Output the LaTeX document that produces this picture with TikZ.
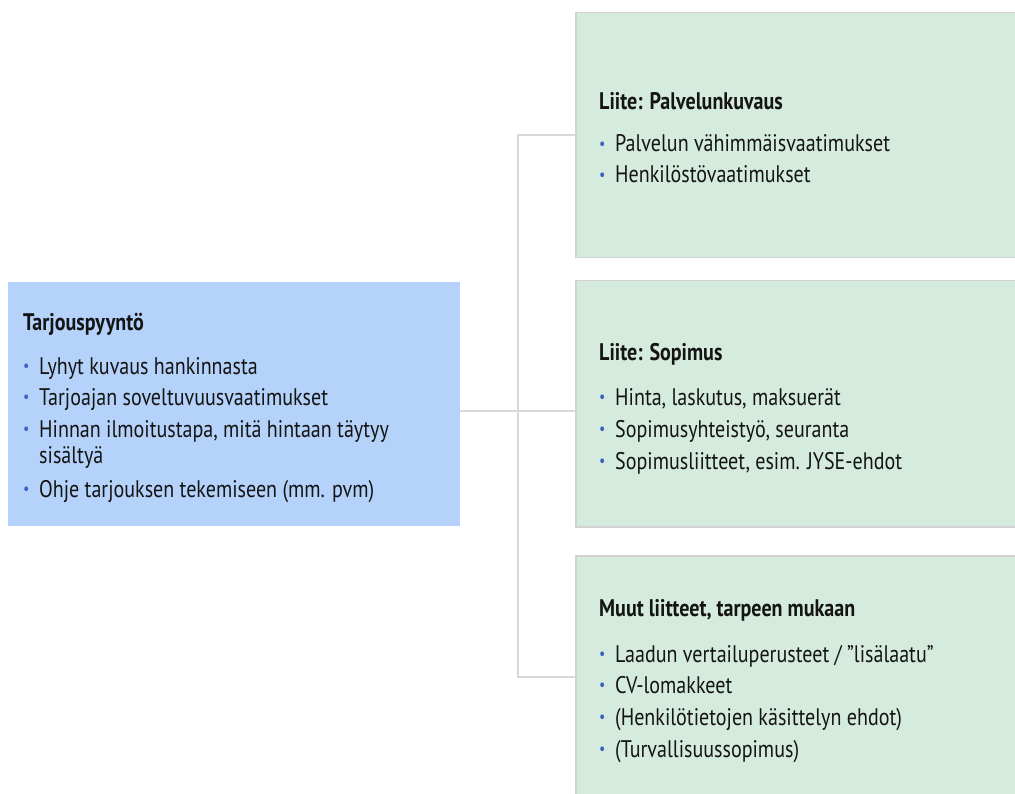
\documentclass[tikz,border=0pt]{standalone}
\usepackage{fontspec}
\setmainfont{PT Sans}[FakeStretch=0.835]
\usetikzlibrary{calc}
\definecolor{reqfill}{HTML}{B4D2FA}
\definecolor{attfill}{HTML}{D5EBDE}
\definecolor{attedge}{HTML}{D2D2D2}
\definecolor{linkgray}{HTML}{D9D9D9}
\definecolor{dotblue}{HTML}{3B63C8}
\definecolor{ink}{HTML}{141414}
% bullet hanging to the left of an item
\newcommand{\bl}{\llap{\makebox[16pt][l]{\textcolor{dotblue}{\raisebox{0.12em}{\scalebox{0.7}{•}}}}}}
\tikzset{
  reqbox/.style={fill=reqfill, draw=none, anchor=north west, inner sep=0},
  attbox/.style={fill=attfill, draw=attedge, line width=1.5pt, anchor=north west, inner sep=0},
  link/.style={draw=linkgray, line width=1.6pt},
  head/.style={anchor=base west, inner sep=0, text=ink, font=\fontsize{24}{26}\selectfont\bfseries},
  entry/.style={anchor=base west, inner sep=0, text=ink, align=left, font=\fontsize{24}{26}\selectfont},
}
\begin{document}
\begin{tikzpicture}[x=1pt,y=-1pt]
\useasboundingbox (0,0) rectangle (1015,794);

% boxes
\node[reqbox, minimum width=452pt, minimum height=244pt] (req) at (8,282) {};
\node[attbox, minimum width=443pt, minimum height=245pt] (att1) at (575,12) {};
\node[attbox, minimum width=443pt, minimum height=246pt] (att2) at (575,280) {};
\node[attbox, minimum width=443pt, minimum height=244pt] (att3) at (575,555) {};

% connectors
\coordinate (j1) at (518,135);
\coordinate (j2) at (518,411);
\coordinate (j3) at (518,677);
\draw[link] (req.east |- j2) -- (att2.west |- j2);
\draw[link] (att1.west |- j1) -- (j1) -- (j3) -- (att3.west |- j3);

% request for tender
\node[head] (reqh) at (23,331) {Tarjouspyyntö};
\node[entry] (req1) at (39,374) {\bl Lyhyt kuvaus hankinnasta};
\node[entry] (req2) at (39,405) {\bl Tarjoajan soveltuvuusvaatimukset};
\node[entry] (req3) at (39,463) {\bl Hinnan ilmoitustapa, mitä hintaan täytyy\\sisältyä};
\node[entry] (req4) at (39,497) {\bl Ohje tarjouksen tekemiseen (mm. pvm)};

% service description
\node[head] (a1h) at (599,110) {Liite: Palvelunkuvaus};
\node[entry] (a11) at (615,152) {\bl Palvelun vähimmäisvaatimukset};
\node[entry] (a12) at (615,183) {\bl Henkilöstövaatimukset};

% contract
\node[head] (a2h) at (599,361) {Liite: Sopimus};
\node[entry] (a21) at (615,405) {\bl Hinta, laskutus, maksuerät};
\node[entry] (a22) at (615,437) {\bl Sopimusyhteistyö, seuranta};
\node[entry] (a23) at (615,469) {\bl Sopimusliitteet, esim. JYSE-ehdot};

% other attachments
\node[head] (a3h) at (599,616) {Muut liitteet, tarpeen mukaan};
\node[entry] (a31) at (615,662) {\bl Laadun vertailuperusteet / ”lisälaatu”};
\node[entry] (a32) at (615,693) {\bl CV-lomakkeet};
\node[entry] (a33) at (615,725) {\bl (Henkilötietojen käsittelyn ehdot)};
\node[entry] (a34) at (615,757) {\bl (Turvallisuussopimus)};
\end{tikzpicture}
\end{document}
